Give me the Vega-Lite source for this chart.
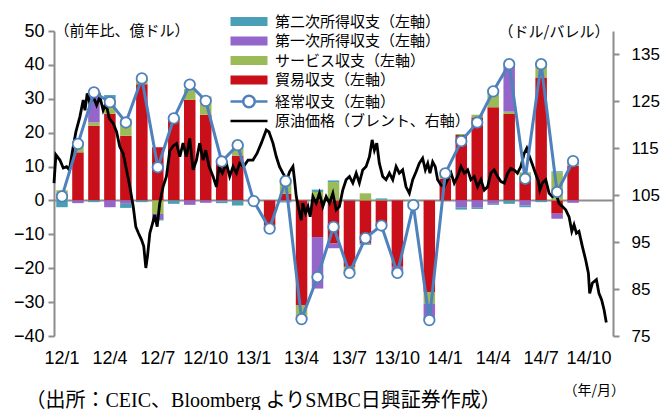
{
"$schema": "https://vega.github.io/schema/vega-lite/v6.json",
"width": 559, "height": 305,
"autosize": {"type": "none"},
"padding": {"left": 54, "top": 31, "right": 50, "bottom": 74},
"background": "white",
"config": {"view": {"stroke": null}, "font": "Liberation Sans"},
"datasets": {
"bars": [
{"m":"12/1","s":"貿易収支","v":0},{"m":"12/1","s":"サービス収支","v":3},{"m":"12/1","s":"第一次所得収支","v":0},{"m":"12/1","s":"第二次所得収支","v":-2},
{"m":"12/2","s":"貿易収支","v":14.2},{"m":"12/2","s":"サービス収支","v":1.8},{"m":"12/2","s":"第一次所得収支","v":-0.8},{"m":"12/2","s":"第二次所得収支","v":0.3},
{"m":"12/3","s":"貿易収支","v":22},{"m":"12/3","s":"サービス収支","v":1},{"m":"12/3","s":"第一次所得収支","v":8},{"m":"12/3","s":"第二次所得収支","v":-0.5},
{"m":"12/4","s":"貿易収支","v":25.6},{"m":"12/4","s":"サービス収支","v":4.5},{"m":"12/4","s":"第一次所得収支","v":-2},{"m":"12/4","s":"第二次所得収支","v":1},
{"m":"12/5","s":"貿易収支","v":19.1},{"m":"12/5","s":"サービス収支","v":5},{"m":"12/5","s":"第一次所得収支","v":-1},{"m":"12/5","s":"第二次所得収支","v":-1.2},
{"m":"12/6","s":"貿易収支","v":34.3},{"m":"12/6","s":"サービス収支","v":1},{"m":"12/6","s":"第一次所得収支","v":0.3},{"m":"12/6","s":"第二次所得収支","v":-0.5},
{"m":"12/7","s":"貿易収支","v":15.7},{"m":"12/7","s":"サービス収支","v":-4},{"m":"12/7","s":"第一次所得収支","v":-1.5},{"m":"12/7","s":"第二次所得収支","v":-0.4},
{"m":"12/8","s":"貿易収支","v":24.2},{"m":"12/8","s":"サービス収支","v":0.5},{"m":"12/8","s":"第一次所得収支","v":0},{"m":"12/8","s":"第二次所得収支","v":-1},
{"m":"12/9","s":"貿易収支","v":29.7},{"m":"12/9","s":"サービス収支","v":3.2},{"m":"12/9","s":"第一次所得収支","v":-1.3},{"m":"12/9","s":"第二次所得収支","v":0},
{"m":"12/10","s":"貿易収支","v":25.3},{"m":"12/10","s":"サービス収支","v":5.4},{"m":"12/10","s":"第一次所得収支","v":-0.7},{"m":"12/10","s":"第二次所得収支","v":0},
{"m":"12/11","s":"貿易収支","v":10.8},{"m":"12/11","s":"サービス収支","v":1},{"m":"12/11","s":"第一次所得収支","v":-0.3},{"m":"12/11","s":"第二次所得収支","v":-0.5},
{"m":"12/12","s":"貿易収支","v":13.2},{"m":"12/12","s":"サービス収支","v":2.5},{"m":"12/12","s":"第一次所得収支","v":1},{"m":"12/12","s":"第二次所得収支","v":-1.5},
{"m":"13/1","s":"貿易収支","v":0.3},{"m":"13/1","s":"サービス収支","v":0.3},{"m":"13/1","s":"第一次所得収支","v":-0.3},{"m":"13/1","s":"第二次所得収支","v":-0.5},
{"m":"13/2","s":"貿易収支","v":-7.4},{"m":"13/2","s":"サービス収支","v":-0.5},{"m":"13/2","s":"第一次所得収支","v":-0.3},{"m":"13/2","s":"第二次所得収支","v":-0.2},
{"m":"13/3","s":"貿易収支","v":2},{"m":"13/3","s":"サービス収支","v":4.4},{"m":"13/3","s":"第一次所得収支","v":-0.3},{"m":"13/3","s":"第二次所得収支","v":-0.3},
{"m":"13/4","s":"貿易収支","v":-31},{"m":"13/4","s":"サービス収支","v":-3.5},{"m":"13/4","s":"第一次所得収支","v":-0.5},{"m":"13/4","s":"第二次所得収支","v":-0.3},
{"m":"13/5","s":"貿易収支","v":-10.8},{"m":"13/5","s":"サービス収支","v":2.5},{"m":"13/5","s":"第一次所得収支","v":-15.2},{"m":"13/5","s":"第二次所得収支","v":0.7},
{"m":"13/6","s":"貿易収支","v":-12.7},{"m":"13/6","s":"サービス収支","v":5.4},{"m":"13/6","s":"第一次所得収支","v":-1.4},{"m":"13/6","s":"第二次所得収支","v":0.5},
{"m":"13/7","s":"貿易収支","v":-19.6},{"m":"13/7","s":"サービス収支","v":-2},{"m":"13/7","s":"第一次所得収支","v":0},{"m":"13/7","s":"第二次所得収支","v":0.2},
{"m":"13/8","s":"貿易収支","v":-12.7},{"m":"13/8","s":"サービス収支","v":2.1},{"m":"13/8","s":"第一次所得収支","v":0},{"m":"13/8","s":"第二次所得収支","v":-0.4},
{"m":"13/9","s":"貿易収支","v":-7.6},{"m":"13/9","s":"サービス収支","v":0.2},{"m":"13/9","s":"第一次所得収支","v":0},{"m":"13/9","s":"第二次所得収支","v":0.4},
{"m":"13/10","s":"貿易収支","v":-19.6},{"m":"13/10","s":"サービス収支","v":0},{"m":"13/10","s":"第一次所得収支","v":-1.5},{"m":"13/10","s":"第二次所得収支","v":-0.3},
{"m":"13/11","s":"貿易収支","v":0},{"m":"13/11","s":"サービス収支","v":-0.8},{"m":"13/11","s":"第一次所得収支","v":0},{"m":"13/11","s":"第二次所得収支","v":-0.2},
{"m":"13/12","s":"貿易収支","v":-27},{"m":"13/12","s":"サービス収支","v":-3.4},{"m":"13/12","s":"第一次所得収支","v":-3.9},{"m":"13/12","s":"第二次所得収支","v":-0.8},
{"m":"14/1","s":"貿易収支","v":6.4},{"m":"14/1","s":"サービス収支","v":1.5},{"m":"14/1","s":"第一次所得収支","v":0},{"m":"14/1","s":"第二次所得収支","v":0},
{"m":"14/2","s":"貿易収支","v":19.3},{"m":"14/2","s":"サービス収支","v":0.3},{"m":"14/2","s":"第一次所得収支","v":-2},{"m":"14/2","s":"第二次所得収支","v":-0.7},
{"m":"14/3","s":"貿易収支","v":24.5},{"m":"14/3","s":"サービス収支","v":0.8},{"m":"14/3","s":"第一次所得収支","v":-2},{"m":"14/3","s":"第二次所得収支","v":-0.5},
{"m":"14/4","s":"貿易収支","v":27.5},{"m":"14/4","s":"サービス収支","v":5.4},{"m":"14/4","s":"第一次所得収支","v":-1},{"m":"14/4","s":"第二次所得収支","v":-0.3},
{"m":"14/5","s":"貿易収支","v":25.5},{"m":"14/5","s":"サービス収支","v":0.7},{"m":"14/5","s":"第一次所得収支","v":13.5},{"m":"14/5","s":"第二次所得収支","v":-1},
{"m":"14/6","s":"貿易収支","v":5.9},{"m":"14/6","s":"サービス収支","v":2.4},{"m":"14/6","s":"第一次所得収支","v":-1.5},{"m":"14/6","s":"第二次所得収支","v":-0.5},
{"m":"14/7","s":"貿易収支","v":36.3},{"m":"14/7","s":"サービス収支","v":4.4},{"m":"14/7","s":"第一次所得収支","v":0},{"m":"14/7","s":"第二次所得収支","v":-0.5},
{"m":"14/8","s":"貿易収支","v":-3.9},{"m":"14/8","s":"サービス収支","v":8.3},{"m":"14/8","s":"第一次所得収支","v":-1.5},{"m":"14/8","s":"第二次所得収支","v":0.3},
{"m":"14/9","s":"貿易収支","v":10.3},{"m":"14/9","s":"サービス収支","v":0.8},{"m":"14/9","s":"第一次所得収支","v":-0.7},{"m":"14/9","s":"第二次所得収支","v":0}
],
"ca": [
{"m":"12/1","v":1.2},{"m":"12/2","v":16.7},{"m":"12/3","v":31.9},{"m":"12/4","v":29},{"m":"12/5","v":23},{"m":"12/6","v":36},
{"m":"12/7","v":9.8},{"m":"12/8","v":24.2},{"m":"12/9","v":34.2},{"m":"12/10","v":29.4},{"m":"12/11","v":11.5},{"m":"12/12","v":16.3},
{"m":"13/1","v":-0.2},{"m":"13/2","v":-8.3},{"m":"13/3","v":5.7},{"m":"13/4","v":-35},{"m":"13/5","v":-22.6},{"m":"13/6","v":-7.8},
{"m":"13/7","v":-21.4},{"m":"13/8","v":-11.1},{"m":"13/9","v":-7.4},{"m":"13/10","v":-21.4},{"m":"13/11","v":-1.4},{"m":"13/12","v":-35.3},
{"m":"14/1","v":8},{"m":"14/2","v":17.5},{"m":"14/3","v":23},{"m":"14/4","v":32.2},{"m":"14/5","v":40.2},{"m":"14/6","v":6.4},
{"m":"14/7","v":40.2},{"m":"14/8","v":2.5},{"m":"14/9","v":11.6}
],
"oil": [
{"t":0,"p":107.6},{"t":0.12,"p":113.6},{"t":0.37,"p":112.5},{"t":0.58,"p":110.8},{"t":0.79,"p":111.1},{"t":0.96,"p":110.4},
{"t":1.2,"p":115.3},{"t":1.37,"p":118.5},{"t":1.62,"p":121.7},{"t":1.83,"p":125.3},{"t":1.94,"p":123.1},{"t":2.08,"p":126.7},
{"t":2.25,"p":124.6},{"t":2.46,"p":126},{"t":2.67,"p":124.2},{"t":2.87,"p":126},{"t":3.08,"p":123.1},{"t":3.25,"p":124.6},
{"t":3.46,"p":121.4},{"t":3.71,"p":120.3},{"t":3.92,"p":118.5},{"t":4.12,"p":115.3},{"t":4.33,"p":113.9},{"t":4.54,"p":110.4},
{"t":4.75,"p":106.8},{"t":4.96,"p":102.6},{"t":5.12,"p":98.3},{"t":5.29,"p":96.9},{"t":5.48,"p":95.5},{"t":5.62,"p":94.1},
{"t":5.75,"p":89.5},{"t":5.85,"p":91.9},{"t":6.0,"p":96.9},{"t":6.17,"p":99},{"t":6.31,"p":100.8},{"t":6.46,"p":98.3},
{"t":6.62,"p":103.3},{"t":6.83,"p":106.8},{"t":7.04,"p":109},{"t":7.25,"p":114.5},{"t":7.46,"p":115.5},{"t":7.67,"p":116},
{"t":7.88,"p":113.2},{"t":8.08,"p":116.1},{"t":8.29,"p":113.2},{"t":8.5,"p":117.1},{"t":8.71,"p":110.4},{"t":8.92,"p":112.5},
{"t":9.12,"p":116.1},{"t":9.33,"p":112.5},{"t":9.5,"p":114.6},{"t":9.71,"p":111.1},{"t":9.96,"p":109},{"t":10.17,"p":106.8},
{"t":10.33,"p":111.1},{"t":10.54,"p":109.7},{"t":10.79,"p":111.8},{"t":11.0,"p":109},{"t":11.21,"p":111.1},{"t":11.42,"p":109.7},
{"t":11.62,"p":111.8},{"t":11.87,"p":111.1},{"t":12.15,"p":112.5},{"t":12.46,"p":112.5},{"t":12.71,"p":113.9},{"t":12.98,"p":116.1},
{"t":13.29,"p":118.9},{"t":13.46,"p":118.5},{"t":13.71,"p":116.1},{"t":13.92,"p":113.2},{"t":14.12,"p":111.1},{"t":14.33,"p":109.7},
{"t":14.58,"p":108.3},{"t":14.75,"p":110},{"t":14.96,"p":111.1},{"t":15.06,"p":108.3},{"t":15.17,"p":104.7},{"t":15.33,"p":101.9},
{"t":15.48,"p":99.7},{"t":15.58,"p":103.3},{"t":15.75,"p":101.2},{"t":15.9,"p":102.6},{"t":16.04,"p":100.4},{"t":16.21,"p":104.7},
{"t":16.42,"p":103.3},{"t":16.62,"p":105.4},{"t":16.83,"p":102.6},{"t":17.04,"p":104.7},{"t":17.25,"p":103.3},{"t":17.46,"p":105.4},
{"t":17.67,"p":101.9},{"t":17.87,"p":102.6},{"t":18.08,"p":106.1},{"t":18.29,"p":108.3},{"t":18.5,"p":109},{"t":18.71,"p":107.6},
{"t":18.92,"p":109.7},{"t":19.12,"p":107.6},{"t":19.33,"p":110.4},{"t":19.54,"p":111.1},{"t":19.75,"p":113.2},{"t":19.92,"p":116.8},
{"t":20.06,"p":114.6},{"t":20.21,"p":116.1},{"t":20.37,"p":111.8},{"t":20.58,"p":109},{"t":20.79,"p":108.3},{"t":21.0,"p":109.7},
{"t":21.21,"p":108.3},{"t":21.42,"p":111.1},{"t":21.62,"p":109.7},{"t":21.83,"p":110.4},{"t":22.04,"p":106.8},{"t":22.25,"p":105.4},
{"t":22.46,"p":108.3},{"t":22.67,"p":110},{"t":22.87,"p":111.8},{"t":23.08,"p":112.9},{"t":23.25,"p":110.4},{"t":23.4,"p":111.8},
{"t":23.54,"p":109.7},{"t":23.71,"p":112.1},{"t":23.87,"p":111.1},{"t":24.02,"p":108.3},{"t":24.23,"p":107.2},{"t":24.44,"p":106.8},
{"t":24.64,"p":108.3},{"t":24.86,"p":109.7},{"t":25.06,"p":107.6},{"t":25.27,"p":109},{"t":25.48,"p":111.1},{"t":25.69,"p":109.7},
{"t":25.9,"p":110.4},{"t":26.1,"p":108.3},{"t":26.31,"p":109},{"t":26.52,"p":106.8},{"t":26.73,"p":108.3},{"t":26.94,"p":106.1},
{"t":27.15,"p":106.8},{"t":27.35,"p":109.7},{"t":27.56,"p":110.4},{"t":27.77,"p":109},{"t":27.98,"p":107.9},{"t":28.19,"p":107.6},
{"t":28.4,"p":109.7},{"t":28.6,"p":110.7},{"t":28.81,"p":110.4},{"t":29.02,"p":109.7},{"t":29.23,"p":111.1},{"t":29.44,"p":113.9},
{"t":29.6,"p":115},{"t":29.75,"p":113.4},{"t":29.96,"p":111.5},{"t":30.17,"p":109.4},{"t":30.33,"p":108},{"t":30.42,"p":106.1},
{"t":30.58,"p":107.6},{"t":30.79,"p":108.3},{"t":31.0,"p":105.4},{"t":31.21,"p":104.7},{"t":31.42,"p":105.4},{"t":31.62,"p":103.3},
{"t":31.83,"p":102.6},{"t":32.04,"p":101.9},{"t":32.25,"p":100.4},{"t":32.42,"p":97.3},{"t":32.56,"p":98.7},{"t":32.71,"p":96.9},
{"t":32.87,"p":97.3},{"t":33.08,"p":94.1},{"t":33.29,"p":91.2},{"t":33.46,"p":88.4},{"t":33.54,"p":84.1},{"t":33.71,"p":86.3},
{"t":33.96,"p":87},{"t":34.12,"p":84.1},{"t":34.29,"p":82.7},{"t":34.44,"p":80.6},{"t":34.58,"p":77.9}
],
"legend": [
{"s":"第二次所得収支"},{"s":"第一次所得収支"},{"s":"サービス収支"},{"s":"貿易収支"},{"s":"経常収支"},{"s":"原油価格"}
]
},
"layer": [
{
"layer": [
{
"data": {"values": [{}]},
"mark": {"type": "rule", "color": "#8c8c8c", "strokeWidth": 2},
"encoding": {"y": {"datum": 0, "type": "quantitative",
"axis": {"values": [-40,-30,-20,-10,0,10,20,30,40,50], "labelOverlap": false, "domainColor": "#8c8c8c", "domainWidth": 2, "tickColor": "#8c8c8c", "tickWidth": 2, "tickSize": 6, "labelFont": "Liberation Sans", "labelFontSize": 18, "labelColor": "#000", "labelPadding": 4, "grid": false,
"title": "（前年比、億ドル）", "titleAngle": 0, "titleX": 0, "titleY": -1, "titleAlign": "left", "titleBaseline": "middle", "titleFont": "Noto Sans CJK JP", "titleFontSize": 15, "titleFontWeight": "normal", "titleColor": "#000"}}}
},
{
"data": {"name": "bars"},
"transform": [{"calculate": "indexof(['貿易収支','サービス収支','第一次所得収支','第二次所得収支'], datum.s)", "as": "o"}],
"mark": {"type": "bar"},
"encoding": {
"x": {"field": "m", "type": "ordinal", "sort": null,
"scale": {"domain": ["12/1","12/2","12/3","12/4","12/5","12/6","12/7","12/8","12/9","12/10","12/11","12/12","13/1","13/2","13/3","13/4","13/5","13/6","13/7","13/8","13/9","13/10","13/11","13/12","14/1","14/2","14/3","14/4","14/5","14/6","14/7","14/8","14/9","14/10","14/11"], "paddingInner": 0.28, "paddingOuter": 0.14},
"axis": {"values": ["12/1","12/4","12/7","12/10","13/1","13/4","13/7","13/10","14/1","14/4","14/7","14/10"], "domain": false, "ticks": false, "tickSize": 0, "labelAngle": 0, "labelFont": "Liberation Sans", "labelFontSize": 18, "labelColor": "#000", "labelPadding": 13, "labelOverlap": false, "grid": false,
"title": "（年/月）", "titleX": 509, "titleY": 54, "titleAlign": "left", "titleBaseline": "middle", "titleFont": "Noto Sans CJK JP", "titleFontSize": 14, "titleFontWeight": "normal", "titleColor": "#000"}},
"y": {"field": "v", "type": "quantitative", "stack": "zero",
"scale": {"domain": [-40, 50], "nice": false, "zero": false},
"axis": {"values": [-40,-30,-20,-10,0,10,20,30,40,50], "labelOverlap": false, "domainColor": "#8c8c8c", "domainWidth": 2, "tickColor": "#8c8c8c", "tickWidth": 2, "tickSize": 6, "labelFont": "Liberation Sans", "labelFontSize": 18, "labelColor": "#000", "labelPadding": 4, "grid": false,
"title": "（前年比、億ドル）", "titleAngle": 0, "titleX": 0, "titleY": -1, "titleAlign": "left", "titleBaseline": "middle", "titleFont": "Noto Sans CJK JP", "titleFontSize": 15, "titleFontWeight": "normal", "titleColor": "#000"}},
"fill": {"field": "s", "type": "nominal",
"scale": {"domain": ["第二次所得収支","第一次所得収支","サービス収支","貿易収支","経常収支","原油価格"], "range": ["#4A9EB5","#9466C9","#9BBB59","#C9101A","#FFFFFF","transparent"]},
"legend": {"orient": "none", "legendX": 187.5, "legendY": -17, "title": null, "padding": 0, "labelFont": "Noto Sans CJK JP", "labelFontSize": 15, "labelColor": "#000", "labelLimit": 400, "symbolSize": 100, "symbolStrokeWidth": 2.5, "symbolOpacity": 1, "labelOffset": 18.5, "rowPadding": 0.5,
"labelExpr": "datum.label == '原油価格' ? '原油価格（ブレント、右軸）' : datum.label + '（左軸）'"}},
"order": {"field": "o", "type": "quantitative", "sort": "ascending"}
}
},
{
"data": {"name": "legend"},
"mark": {"type": "point", "opacity": 0},
"encoding": {
"fill": {"field": "s", "type": "nominal",
"scale": {"domain": ["第二次所得収支","第一次所得収支","サービス収支","貿易収支","経常収支","原油価格"], "range": ["#4A9EB5","#9466C9","#9BBB59","#C9101A","#FFFFFF","transparent"]}},
"stroke": {"field": "s", "type": "nominal",
"scale": {"domain": ["第二次所得収支","第一次所得収支","サービス収支","貿易収支","経常収支","原油価格"], "range": ["transparent","transparent","transparent","transparent","#4F81BD","#000000"]},
"legend": {"orient": "none", "legendX": 187.5, "legendY": -17, "title": null, "padding": 0, "labelFont": "Noto Sans CJK JP", "labelFontSize": 15, "labelColor": "#000", "labelLimit": 400, "symbolSize": 100, "symbolStrokeWidth": 2.5, "symbolOpacity": 1, "labelOffset": 18.5, "rowPadding": 0.5,
"labelExpr": "datum.label == '原油価格' ? '原油価格（ブレント、右軸）' : datum.label + '（左軸）'"}},
"shape": {"field": "s", "type": "nominal",
"scale": {"domain": ["第二次所得収支","第一次所得収支","サービス収支","貿易収支","経常収支","原油価格"], "range": ["M-3.7,-0.9H3.7V0.9H-3.7Z","M-3.7,-0.9H3.7V0.9H-3.7Z","M-3.7,-0.9H3.7V0.9H-3.7Z","M-3.7,-0.9H3.7V0.9H-3.7Z","M-3.7,0H-1.15M1.15,0H3.7M-1.15,0A1.15,1.15,0,1,1,1.15,0A1.15,1.15,0,1,1,-1.15,0Z","M-3.7,0H3.7"]},
"legend": {"orient": "none", "legendX": 187.5, "legendY": -17, "title": null, "padding": 0, "labelFont": "Noto Sans CJK JP", "labelFontSize": 15, "labelColor": "#000", "labelLimit": 400, "symbolSize": 100, "symbolStrokeWidth": 2.5, "symbolOpacity": 1, "labelOffset": 18.5, "rowPadding": 0.5,
"labelExpr": "datum.label == '原油価格' ? '原油価格（ブレント、右軸）' : datum.label + '（左軸）'"}}
}
}
]
},
{
"data": {"name": "oil"},
"mark": {"type": "line", "color": "#000000", "strokeWidth": 2.8},
"encoding": {
"x": {"field": "t", "type": "quantitative", "scale": {"domain": [0, 35], "nice": false, "zero": false},
"axis": {"orient": "bottom", "labels": false, "ticks": false, "domain": false, "grid": false,
"title": "（出所：CEIC、Bloomberg よりSMBC日興証券作成）", "titleX": -29, "titleY": 64, "titleAlign": "left", "titleBaseline": "middle", "titleFont": "Liberation Serif, Noto Sans CJK JP", "titleFontSize": 20, "titleFontWeight": "normal", "titleColor": "#000"}},
"y": {"field": "p", "type": "quantitative", "scale": {"domain": [75, 140], "nice": false, "zero": false},
"axis": {"orient": "right", "values": [75,85,95,105,115,125,135], "labelOverlap": false, "domainColor": "#8c8c8c", "domainWidth": 2, "tickColor": "#8c8c8c", "tickWidth": 2, "tickSize": 6, "labelFont": "Liberation Sans", "labelFontSize": 17, "labelColor": "#000", "labelPadding": 12, "grid": false,
"title": "（ドル/バレル）", "titleAngle": 0, "titleX": -115, "titleY": 0, "titleAlign": "left", "titleBaseline": "middle", "titleFont": "Noto Sans CJK JP", "titleFontSize": 15, "titleFontWeight": "normal", "titleColor": "#000"}}
}
},
{
"data": {"name": "ca"},
"encoding": {
"x": {"field": "m", "type": "ordinal", "sort": null,
"scale": {"type": "point", "domain": ["12/1","12/2","12/3","12/4","12/5","12/6","12/7","12/8","12/9","12/10","12/11","12/12","13/1","13/2","13/3","13/4","13/5","13/6","13/7","13/8","13/9","13/10","13/11","13/12","14/1","14/2","14/3","14/4","14/5","14/6","14/7","14/8","14/9","14/10","14/11"], "padding": 0.5},
"axis": null},
"y": {"field": "v", "type": "quantitative", "scale": {"domain": [-40, 50], "nice": false, "zero": false}, "axis": null}
},
"layer": [
{"mark": {"type": "line", "color": "#4F81BD", "strokeWidth": 3}},
{"mark": {"type": "point", "filled": true, "fill": "#FFFFFF", "stroke": "#4F81BD", "strokeWidth": 1.8, "size": 110, "opacity": 1}}
]
}
],
"resolve": {"scale": {"x": "independent", "y": "independent"}}
}
